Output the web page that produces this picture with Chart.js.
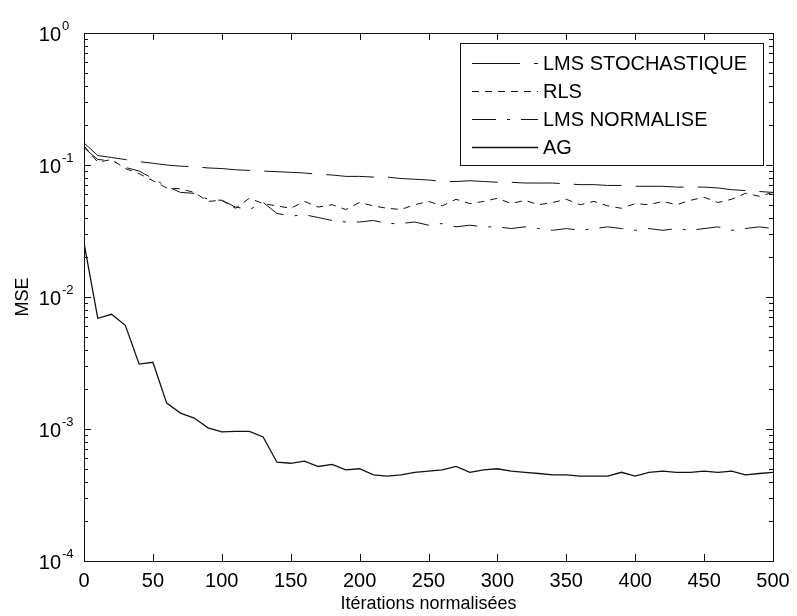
<!DOCTYPE html>
<html>
<head>
<meta charset="utf-8">
<title>MSE</title>
<script src="https://cdn.jsdelivr.net/npm/chart.js@4.4.1/dist/chart.umd.min.js"></script>
<style>
  html, body { margin: 0; padding: 0; background: #ffffff; }
</style>
</head>
<body>
<canvas id="myChart" width="797" height="616"></canvas>
<script>
// iterations (x), one point every 10
const iterations = [0, 10, 20, 30, 40, 50, 60, 70, 80, 90, 100, 110, 120, 130, 140, 150, 160, 170, 180, 190, 200,
    210, 220, 230, 240, 250, 260, 270, 280, 290, 300, 310, 320, 330, 340, 350, 360, 370, 380, 390, 400,
    410, 420, 430, 440, 450, 460, 470, 480, 490, 500];

const lmsStochastique = [0.147, 0.118, 0.114, 0.110, 0.106, 0.103, 0.100, 0.098, 0.097, 0.095, 0.094,
    0.092, 0.091, 0.090, 0.089, 0.088, 0.087, 0.085, 0.084, 0.082, 0.082,
    0.081, 0.081, 0.079, 0.078, 0.077, 0.075, 0.075, 0.076, 0.075, 0.074,
    0.074, 0.073, 0.073, 0.073, 0.072, 0.071, 0.071, 0.070, 0.070, 0.069,
    0.069, 0.069, 0.068, 0.068, 0.068, 0.067, 0.065, 0.064, 0.063, 0.062];

const rls = [0.140, 0.105, 0.110, 0.094, 0.086, 0.076, 0.067, 0.066, 0.062, 0.053, 0.054,
    0.047, 0.056, 0.051, 0.049, 0.047, 0.053, 0.048, 0.050, 0.046, 0.052,
    0.049, 0.047, 0.046, 0.050, 0.053, 0.049, 0.055, 0.051, 0.053, 0.056,
    0.051, 0.054, 0.050, 0.052, 0.055, 0.050, 0.053, 0.049, 0.047, 0.051,
    0.050, 0.053, 0.050, 0.054, 0.057, 0.052, 0.055, 0.061, 0.058, 0.062];

const lmsNormalise = [0.135, 0.110, 0.108, 0.096, 0.090, 0.079, 0.069, 0.062, 0.061, 0.055, 0.054,
    0.048, 0.046, 0.052, 0.043, 0.041, 0.042, 0.040, 0.038, 0.037, 0.037,
    0.038, 0.036, 0.036, 0.037, 0.035, 0.036, 0.034, 0.035, 0.034, 0.034,
    0.033, 0.034, 0.033, 0.032, 0.033, 0.032, 0.033, 0.034, 0.033, 0.032,
    0.033, 0.032, 0.033, 0.032, 0.033, 0.034, 0.032, 0.033, 0.034, 0.033];

const ag = [0.0257, 0.0069, 0.0074, 0.0061, 0.0031, 0.0032, 0.00157, 0.00132, 0.00121, 0.00102, 0.00095,
    0.00096, 0.00096, 0.00087, 0.00056, 0.00055, 0.00057, 0.00052, 0.00054, 0.00049, 0.00050,
    0.00045, 0.00044, 0.00045, 0.00047, 0.00048, 0.00049, 0.00052, 0.00047, 0.00049, 0.00050,
    0.00048, 0.00047, 0.00046, 0.00045, 0.00045, 0.00044, 0.00044, 0.00044, 0.00047, 0.00044,
    0.00047, 0.00048, 0.00047, 0.00047, 0.00048, 0.00047, 0.00048, 0.00045, 0.00046, 0.00047];

const xTicks = [0, 50, 100, 150, 200, 250, 300, 350, 400, 450, 500];
const yDecades = [1e-4, 1e-3, 1e-2, 1e-1, 1];

const FONT = "'Liberation Sans', Arial, Helvetica, sans-serif";
const INK = '#111111';

function toPoints(values) {
    return values.map((v, i) => ({ x: iterations[i], y: v }));
}

// box, inward ticks, y labels and legend drawn the MATLAB way
const matlabAxes = {
    id: 'matlabAxes',
    afterDatasetsDraw(chart) {
        const ctx = chart.ctx;
        const area = chart.chartArea;
        const xs = chart.scales.x;
        const ys = chart.scales.y;
        ctx.save();
        ctx.strokeStyle = INK;
        ctx.lineWidth = 1;
        ctx.setLineDash([]);

        // frame
        ctx.strokeRect(Math.round(area.left) + 0.5, Math.round(area.top) + 0.5,
            Math.round(area.right - area.left), Math.round(area.bottom - area.top));

        ctx.beginPath();
        xTicks.forEach(v => {
            const px = Math.round(xs.getPixelForValue(v)) + 0.5;
            ctx.moveTo(px, area.bottom);
            ctx.lineTo(px, area.bottom - 7);
            ctx.moveTo(px, area.top);
            ctx.lineTo(px, area.top + 7);
        });
        yDecades.forEach((d, idx) => {
            const py = Math.round(ys.getPixelForValue(d)) + 0.5;
            ctx.moveTo(area.left, py);
            ctx.lineTo(area.left + 7, py);
            ctx.moveTo(area.right, py);
            ctx.lineTo(area.right - 7, py);
            if (idx < yDecades.length - 1) {
                for (let k = 2; k < 10; k++) {
                    const pm = Math.round(ys.getPixelForValue(k * d)) + 0.5;
                    ctx.moveTo(area.left, pm);
                    ctx.lineTo(area.left + 4, pm);
                    ctx.moveTo(area.right, pm);
                    ctx.lineTo(area.right - 4, pm);
                }
            }
        });
        ctx.stroke();

        // y tick labels 10^n
        ctx.fillStyle = '#000';
        yDecades.forEach(d => {
            const py = ys.getPixelForValue(d);
            const exp = Math.round(Math.log10(d));
            ctx.font = '20px ' + FONT;
            ctx.textAlign = 'right';
            ctx.textBaseline = 'middle';
            ctx.fillText('10', 61, py + 2);
            ctx.font = '13px ' + FONT;
            ctx.textAlign = 'left';
            ctx.fillText(String(exp), 62, py - 7);
        });

        // legend
        const lx = 460, ly = 43, lw = 303, lh = 122;
        ctx.fillStyle = '#fff';
        ctx.fillRect(lx, ly, lw, lh);
        ctx.strokeRect(lx + 0.5, ly + 0.5, lw, lh);
        const rows = [63, 91, 119, 147];
        chart.data.datasets.forEach((ds, i) => {
            const y = rows[i] + 0.5;
            ctx.strokeStyle = ds.borderColor;
            ctx.lineWidth = ds.borderWidth;
            ctx.setLineDash(ds.borderDash || []);
            ctx.beginPath();
            ctx.moveTo(472, y);
            ctx.lineTo(538, y);
            ctx.stroke();
            ctx.setLineDash([]);
            ctx.fillStyle = '#000';
            ctx.font = '20px ' + FONT;
            ctx.textAlign = 'left';
            ctx.textBaseline = 'middle';
            ctx.fillText(ds.label, 543, rows[i] + 1);
        });
        ctx.restore();
    }
};

const ctx = document.getElementById('myChart').getContext('2d');
const myChart = new Chart(ctx, {
    type: 'line',
    data: {
        datasets: [
            {
                label: 'LMS STOCHASTIQUE',
                data: toPoints(lmsStochastique),
                borderColor: INK,
                borderWidth: 1,
                borderDash: [48, 14]
            },
            {
                label: 'RLS',
                data: toPoints(rls),
                borderColor: INK,
                borderWidth: 1,
                borderDash: [7, 6]
            },
            {
                label: 'LMS NORMALISE',
                data: toPoints(lmsNormalise),
                borderColor: INK,
                borderWidth: 1,
                borderDash: [24, 11, 3, 11]
            },
            {
                label: 'AG',
                data: toPoints(ag),
                borderColor: INK,
                borderWidth: 1.3
            }
        ]
    },
    options: {
        responsive: false,
        animation: false,
        layout: { padding: { top: 33, right: 24, left: 0, bottom: 0 } },
        elements: { point: { radius: 0 }, line: { tension: 0 } },
        plugins: {
            legend: { display: false },
            tooltip: { enabled: false }
        },
        scales: {
            x: {
                type: 'linear',
                min: 0,
                max: 500,
                grid: { display: false },
                border: { display: false },
                afterBuildTicks: scale => { scale.ticks = xTicks.map(v => ({ value: v })); },
                afterFit: scale => { scale.height = 55; },
                ticks: { color: '#000', padding: 0, font: { family: FONT, size: 20 } },
                title: {
                    display: true,
                    text: 'Itérations normalisées',
                    color: '#000',
                    padding: { top: 0, bottom: 1 },
                    font: { family: FONT, size: 18 }
                }
            },
            y: {
                type: 'logarithmic',
                min: 1e-4,
                max: 1,
                grid: { display: false },
                border: { display: false },
                ticks: { display: false },
                afterFit: scale => { scale.width = 84; },
                title: {
                    display: true,
                    text: 'MSE',
                    color: '#000',
                    padding: { top: 12, bottom: 0 },
                    font: { family: FONT, size: 18 }
                }
            }
        }
    },
    plugins: [matlabAxes]
});
</script>
</body>
</html>
